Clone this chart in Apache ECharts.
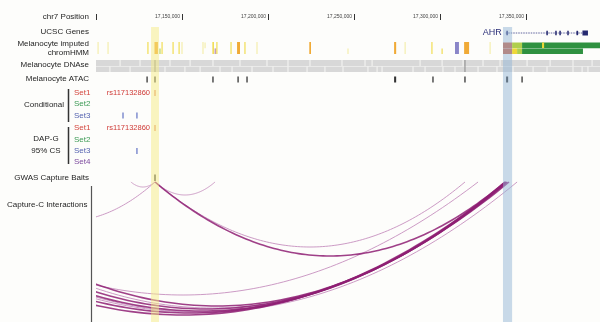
<!DOCTYPE html>
<html>
<head>
<meta charset="utf-8">
<script src="https://cdn.jsdelivr.net/npm/echarts@6.0.0/dist/echarts.min.js"></script>
<style>
  html, body { margin: 0; padding: 0; background: #fdfdfb; }
  #chart { width: 600px; height: 322px; }
</style>
</head>
<body>
<div id="chart"></div>
<script>
// all positions: chr7, in kb
var viewKb = [17100, 17393];
var snpBand = [17132.0, 17136.6];
var ahrBand = [17336.6, 17341.9];

var ahrGene = [17338.2, 17385.8];
var ahrExons = [[17338.6, 17339.4], [17361.9, 17362.6], [17367.1, 17367.7], [17369.5, 17370.1],
                [17374.1, 17374.7], [17379.3, 17380.3], [17382.8, 17386.0]];

// [start, end, state, row]  row 0 = upper, 1 = lower, 2 = both
var chromHmm = [
  [17100.9, 17101.5, 'weak', 2], [17106.7, 17107.3, 'weak', 2], [17129.9, 17130.5, 'enh', 2],
  [17134.0, 17136.0, 'flank', 2], [17136.9, 17137.5, 'txw', 1], [17138.1, 17138.7, 'enh', 2],
  [17144.5, 17145.1, 'enh', 2], [17148.0, 17148.6, 'enh', 2], [17149.7, 17150.3, 'weak', 2],
  [17161.9, 17162.5, 'weak', 2], [17163.1, 17163.7, 'weak', 0], [17167.7, 17168.5, 'enh', 2],
  [17168.9, 17169.9, 'pink', 1], [17170.0, 17170.6, 'enh', 2], [17178.2, 17178.8, 'enh', 2],
  [17182.0, 17183.7, 'flank', 2], [17186.3, 17186.9, 'enh', 2], [17193.3, 17193.9, 'weak', 2],
  [17224.0, 17225.0, 'flank', 2], [17246.2, 17246.8, 'weak', 1], [17273.3, 17274.5, 'flank', 2],
  [17279.4, 17280.0, 'weak', 2], [17295.0, 17295.6, 'enh', 2], [17300.9, 17301.5, 'enh', 1],
  [17308.7, 17311.0, 'biv', 2], [17314.0, 17316.9, 'flank', 2], [17328.8, 17329.4, 'weak', 2],
  [17336.6, 17341.9, 'tss', 0], [17341.9, 17347.7, 'txw', 0], [17347.7, 17393.0, 'tx', 0],
  [17359.3, 17360.5, 'enh', 0],
  [17336.6, 17341.9, 'tss', 1], [17341.9, 17344.8, 'enh', 1], [17344.8, 17347.7, 'txw', 1],
  [17347.7, 17383.1, 'tx', 1]
];

var dnaseGapsTop = [17114.0, 17125.6, 17143.0, 17154.7, 17168.0, 17183.7, 17199.4, 17211.6, 17224.4,
  17243.0, 17256.4, 17260.5, 17288.4, 17301.2, 17313.4, 17325.0, 17334.9, 17350.6, 17364.0, 17377.3, 17388.4];
var dnaseGapsBottom = [17108.1, 17119.8, 17140.1, 17151.7, 17160.5, 17172.1, 17179.1, 17190.7, 17202.9,
  17211.6, 17222.7, 17233.1, 17243.6, 17258.1, 17263.4, 17266.3, 17284.3, 17291.3, 17301.7, 17308.7,
  17322.1, 17333.1, 17342.4, 17354.1, 17362.2, 17377.3, 17382.6, 17386.0];
var dnaseStrong = [17134.3, 17314.5];

var atacPeaks = [[17129.4, 17130.0], [17134.0, 17134.6], [17167.7, 17168.3], [17182.3, 17182.9],
  [17187.5, 17188.1], [17273.3, 17274.5], [17295.6, 17296.2], [17314.2, 17314.8],
  [17338.4, 17339.6], [17347.4, 17348.0]];

var leadSnp = 'rs117132860';
// [position, set]
var conditionalHits = [[17134.3, 1], [17115.7, 3], [17123.8, 3]];
var dapgHits = [[17134.3, 1], [17123.8, 3]];
var baits = [17134.3];

// capture-C: [start, end, depth, strong]
var captureC = [
  [17120.3, 17134.3, 5, 0], [17134.3, 17169.2, 13, 0], [17032.6, 17134.3, 39, 0],
  [17134.3, 17314.5, 65, 0], [16979.1, 17322.1, 113, 0], [16979.1, 17344.8, 130, 0],
  [16996.5, 17339.0, 126, 0], [16976.2, 17339.5, 130, 0],
  [17134.3, 17337.8, 74, 1], [17002.9, 17337.8, 124, 1], [16989.5, 17338.4, 127, 1],
  [16983.1, 17339.0, 129, 1], [16969.8, 17340.1, 131, 1], [16962.8, 17338.4, 133, 1]
];

// ---- layout (vertical rows, in px) ----
var hmmRows = [[42.5, 48.2], [48.4, 54], [42, 54]];
var dnaseRows = [[60, 66], [66.6, 72]];
var condRows = [0, 93, 104, 115.5];
var dapgRows = [0, 128, 139.5, 151, 162];
var arcBase = 182;
var setColors = ['', '#d4463e', '#3c9a55', '#5563b0', '#7d4a9e'];
var stateColors = { weak: '#f3eca0', enh: '#efd838', flank: '#f0aa36', txw: '#b0cf4c', tx: '#2f9140',
  tss: '#cf5f3c', biv: '#8a86c8', pink: '#c7a0b4' };
var font = '"Liberation Sans", Arial, sans-serif';

function box(api, x0, x1, y0, y1, minW) {
  var a = api.coord([x0, y0]), b = api.coord([x1, y1]);
  var w = b[0] - a[0];
  if (w < minW) { a[0] -= (minW - w) / 2; w = minW; }
  return { x: a[0], y: a[1], width: w, height: b[1] - a[1] };
}

var chart = echarts.init(document.getElementById('chart'));

var labels = [
  ['chr7 Position', 89, 17, 'right'], ['UCSC Genes', 89, 32, 'right'],
  ['Melanocyte imputed', 89, 43.5, 'right'], ['chromHMM', 89, 52.5, 'right'],
  ['Melanocyte DNAse', 89, 65, 'right'], ['Melanocyte ATAC', 89, 79, 'right'],
  ['Conditional', 44, 105, 'center'], ['DAP-G', 46, 138.5, 'center'], ['95% CS', 46, 150.5, 'center'],
  ['GWAS Capture Baits', 89, 177.5, 'right'], ['Capture-C Interactions', 7, 205, 'left']
];
var graphics = labels.map(function (l) {
  return { type: 'text', x: l[1], y: l[2], silent: true,
    style: { text: l[0], fill: '#1e1e1e', font: '8px ' + font, align: l[3], verticalAlign: 'middle',
      textAlign: l[3], textVerticalAlign: 'middle' } };
});
[[condRows, 3], [dapgRows, 4]].forEach(function (g) {
  for (var s = 1; s <= g[1]; s++) {
    graphics.push({ type: 'text', x: 74, y: g[0][s], silent: true,
      style: { text: 'Set' + s, fill: setColors[s], font: '8px ' + font, align: 'left', verticalAlign: 'middle',
        textAlign: 'left', textVerticalAlign: 'middle' } });
  }
});
graphics.push({ type: 'line', shape: { x1: 68.5, y1: 89, x2: 68.5, y2: 122 }, style: { stroke: '#333', lineWidth: 1.5 } });
graphics.push({ type: 'line', shape: { x1: 68.5, y1: 127, x2: 68.5, y2: 164 }, style: { stroke: '#333', lineWidth: 1.5 } });
graphics.push({ type: 'line', shape: { x1: 91.5, y1: 186, x2: 91.5, y2: 322 }, style: { stroke: '#555', lineWidth: 1.2 } });

var option = {
  animation: false,
  backgroundColor: '#fdfdfb',
  grid: { left: 96, right: 0, top: 0, bottom: 0, containLabel: false, outerBoundsMode: 'none' },
  xAxis: {
    type: 'value', position: 'top', offset: -20,
    min: viewKb[0], max: viewKb[1], interval: 50,
    axisLine: { show: false },
    axisTick: { show: true, length: 6, lineStyle: { color: '#333', width: 1 } },
    splitLine: { show: false },
    axisLabel: {
      fontSize: 5, color: '#444', fontFamily: font, margin: 3, showMaxLabel: false,
      align: 'right', verticalAlign: 'middle', padding: [0, 2, 0, 0],
      formatter: function (v) {
        return (v === viewKb[0] || v % 50 !== 0) ? '' : (v * 1000).toLocaleString('en-US');
      }
    }
  },
  yAxis: { type: 'value', min: 0, max: 322, inverse: true, show: false },
  graphic: graphics,
  series: [
    {
      name: 'DNAse', type: 'custom', clip: true, data: [viewKb],
      renderItem: function (params, api) {
        var kids = [];
        [[dnaseRows[0], dnaseGapsTop], [dnaseRows[1], dnaseGapsBottom]].forEach(function (r) {
          kids.push({ type: 'rect', shape: box(api, viewKb[0], viewKb[1], r[0][0], r[0][1], 0), style: { fill: '#d8d8d8' } });
          r[1].forEach(function (g) {
            kids.push({ type: 'rect', shape: box(api, g - 0.3, g + 0.3, r[0][0], r[0][1], 1), style: { fill: '#f6f6f4' } });
          });
        });
        dnaseStrong.forEach(function (p) {
          kids.push({ type: 'rect', shape: box(api, p - 0.3, p + 0.3, dnaseRows[0][0], dnaseRows[1][1], 1), style: { fill: '#8a8a8a' } });
        });
        return { type: 'group', children: kids };
      }
    },
    {
      name: 'chromHMM', type: 'custom', clip: true,
      data: chromHmm.map(function (d) { return [d[0], d[1]]; }),
      renderItem: function (params, api) {
        var d = chromHmm[params.dataIndex], r = hmmRows[d[3]];
        return { type: 'rect', shape: box(api, d[0], d[1], r[0], r[1], 1), style: { fill: stateColors[d[2]] } };
      }
    },
    {
      name: 'UCSC Genes', type: 'custom', clip: true, data: [ahrGene],
      renderItem: function (params, api) {
        var kids = [];
        var a = api.coord([ahrGene[0], 33]), b = api.coord([ahrGene[1], 33]);
        kids.push({ type: 'line', shape: { x1: a[0], y1: a[1], x2: b[0], y2: b[1] }, style: { stroke: '#3a3f88', lineWidth: 0.8, lineDash: [1.5, 1] } });
        ahrExons.forEach(function (e, i) {
          var last = i === ahrExons.length - 1;
          kids.push({ type: 'rect', shape: box(api, e[0], e[1], last ? 30.5 : 30.8, last ? 35.5 : 35.2, 1.5), style: { fill: '#262a70' } });
        });
        kids.push({ type: 'text', x: a[0] - 4, y: 32.5,
          style: { text: 'AHR', fill: '#2b2f78', font: '9px ' + font, align: 'right', verticalAlign: 'middle' } });
        return { type: 'group', children: kids };
      }
    },
    {
      name: 'ATAC', type: 'custom', clip: true, data: atacPeaks,
      renderItem: function (params, api) {
        var d = atacPeaks[params.dataIndex];
        return { type: 'rect', shape: box(api, d[0], d[1], 76.5, 82.5, 1.3), style: { fill: '#333' } };
      }
    },
    {
      name: 'Fine mapping', type: 'custom', clip: true,
      data: conditionalHits.concat(dapgHits).map(function (d) { return [d[0], d[1]]; }),
      renderItem: function (params, api) {
        var i = params.dataIndex, isCond = i < conditionalHits.length;
        var d = isCond ? conditionalHits[i] : dapgHits[i - conditionalHits.length];
        var yc = (isCond ? condRows : dapgRows)[d[1]];
        var kids = [{ type: 'rect', shape: box(api, d[0] - 0.3, d[0] + 0.3, yc - 3, yc + 3, 1.2),
          style: { fill: d[1] === 1 ? '#e0855a' : '#6273c4' } }];
        if (d[1] === 1) {
          var p = api.coord([d[0], yc]);
          kids.push({ type: 'text', x: p[0] - 5, y: yc,
            style: { text: leadSnp, fill: '#cf3a36', font: '7.5px ' + font, align: 'right', verticalAlign: 'middle' } });
        }
        return { type: 'group', children: kids };
      }
    },
    {
      name: 'Baits', type: 'custom', clip: true, data: baits.map(function (b) { return [b]; }),
      renderItem: function (params, api) {
        var b = baits[params.dataIndex];
        return { type: 'rect', shape: box(api, b - 0.3, b + 0.3, 174.5, 181, 1.3), style: { fill: '#222' } };
      }
    },
    {
      name: 'Capture-C', type: 'custom', clip: true,
      data: captureC.map(function (d) { return [d[0], d[1]]; }),
      renderItem: function (params, api) {
        var d = captureC[params.dataIndex];
        var c = (d[0] + d[1]) / 2, h = (d[1] - d[0]) / 2, pts = [];
        for (var k = 0; k <= 100; k++) {
          var u = -1 + 2 * k / 100;
          pts.push(api.coord([c + h * u, arcBase + d[2] * (1 - u * u)]));
        }
        return { type: 'polyline', shape: { points: pts },
          style: d[3] ? { stroke: '#8e1f73', lineWidth: 1.6, opacity: 0.85, fill: null }
                      : { stroke: '#c790bf', lineWidth: 1, opacity: 0.9, fill: null } };
      }
    },
    {
      name: 'Highlights', type: 'custom', clip: true, data: [snpBand, ahrBand],
      renderItem: function (params, api) {
        var d = params.dataIndex === 0 ? snpBand : ahrBand;
        return { type: 'rect', shape: box(api, d[0], d[1], 27, 322, 1),
          style: { fill: params.dataIndex === 0 ? '#f6ec84' : '#94b5d6', opacity: 0.5 } };
      }
    }
  ]
};

chart.setOption(option);
window.addEventListener('resize', chart.resize);
</script>
</body>
</html>
